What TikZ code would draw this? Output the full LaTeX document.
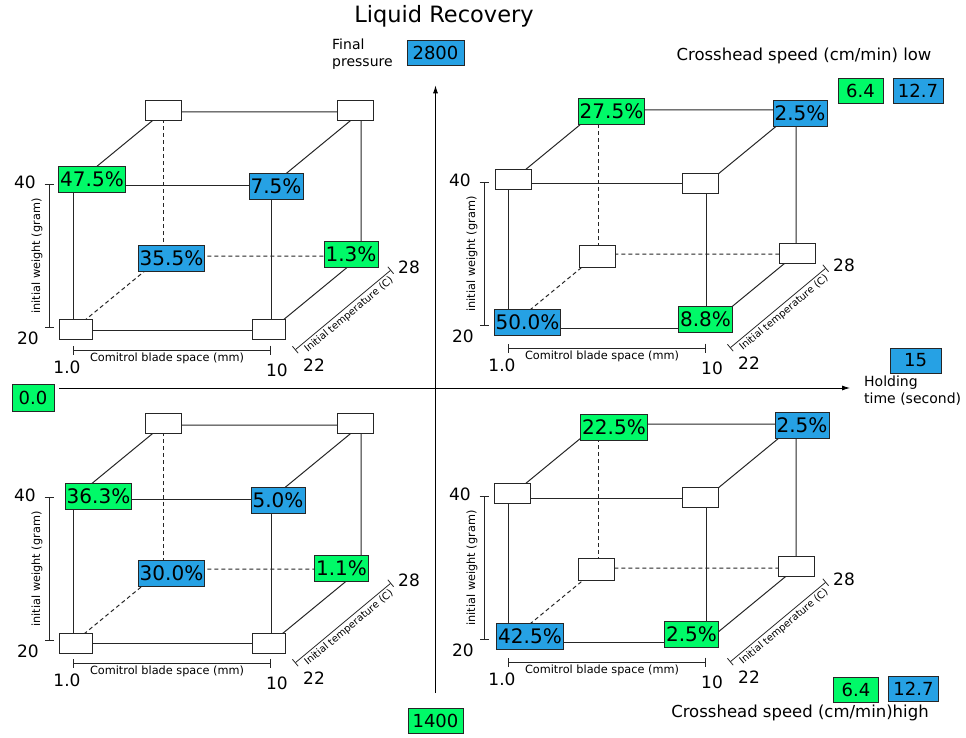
\documentclass[tikz,border=0pt]{standalone}
\usepackage{fontspec}
\setmainfont{DejaVu Sans}
\usetikzlibrary{arrows.meta}
\definecolor{lrgreen}{RGB}{0,250,104}
\definecolor{lrblue}{RGB}{38,161,228}

\begin{document}
\begin{tikzpicture}[x=1pt, y=-1pt,
    edge/.style={draw=black!85, line width=1pt},
    hidden/.style={edge, dash pattern=on 4pt off 3pt},
    bracket/.style={draw=black!85, line width=0.8pt, {Bar[width=9pt]}-{Bar[width=9pt]}},
    blank/.style={draw=black!85, line width=0.8pt, fill=white, inner sep=0pt,
        minimum width=36pt, minimum height=20pt},
    val/.style={draw=black!85, line width=0.8pt, inner xsep=1.5pt, inner ysep=0pt,
        minimum height=26pt, font=\fontsize{20}{23}\selectfont},
    hi/.style={val, fill=lrgreen},
    lo/.style={val, fill=lrblue},
    key/.style={val, inner xsep=3pt, minimum height=25pt, font=\fontsize{18}{21}\selectfont},
    num/.style={inner sep=0pt, font=\fontsize{17}{20}\selectfont},
    axlabel/.style={inner sep=0pt, font=\fontsize{11.3}{13}\selectfont},
    note/.style={inner sep=0pt, align=left, font=\fontsize{14}{17}\selectfont}]
    \useasboundingbox (0,0) rectangle (966,738);

    % Title and legend
    \node[inner sep=0pt, font=\fontsize{22.5}{26}\selectfont] (title) at (444,16) {Liquid Recovery};
    \node[note, anchor=north west] (fp) at (332,39) {Final\\pressure};
    \node[key, fill=lrblue, minimum width=57pt] (p2800) at (435.5,52.5) {2800};
    \node[key, fill=lrgreen, minimum width=55pt] (p1400) at (435.5,721) {1400};
    \node[key, fill=lrgreen, minimum width=42pt, minimum height=27pt] (t00) at (33,397.5) {0.0};
    \node[key, fill=lrblue, minimum width=51pt] (t15) at (915.5,360.5) {15};
    \node[note, anchor=north west] (ht) at (864,376) {Holding\\time (second)};
    \node[note, font=\fontsize{16.5}{19}\selectfont] (csl) at (804,56) {Crosshead speed (cm/min) low};
    \node[key, fill=lrgreen, minimum width=45pt] (sl1) at (860.5,90.5) {6.4};
    \node[key, fill=lrblue, minimum width=50pt] (sl2) at (918,90.5) {12.7};
    \node[note, font=\fontsize{16.5}{19}\selectfont] (csh) at (800,713) {Crosshead speed (cm/min)high};
    \node[key, fill=lrgreen, minimum width=45pt] (sh1) at (856,689.5) {6.4};
    \node[key, fill=lrblue, minimum width=50pt] (sh2) at (913.5,688.5) {12.7};

    % Axes
    \coordinate (hs) at (59,388);
    \coordinate (he) at (850,388);
    \draw[line width=0.8pt, -{Latex[length=8pt,width=5pt]}] ([yshift=15pt]p1400.north) -- ([yshift=-20pt]p2800.south);
    \draw[line width=0.8pt, -{Latex[length=8pt,width=5pt]}] (hs) -- (he);

    % Cubes
    \foreach \ox/\oy in {73/330, 508/328, 73/643, 508/642} {
        \begin{scope}[shift={(\ox,\oy)}]
            \coordinate (fbl) at (0,0);
            \coordinate (fbr) at (198,0);
            \coordinate (ftl) at (0,-144);
            \coordinate (ftr) at (198,-144);
            \coordinate (bbl) at (90,-74);
            \coordinate (bbr) at (288,-74);
            \coordinate (btl) at (90,-218);
            \coordinate (btr) at (288,-218);
            \draw[edge] (fbl) -- (fbr) -- (ftr) -- (ftl) -- cycle;
            \draw[edge] (ftl) -- (btl) -- (btr) -- (bbr) -- (fbr);
            \draw[edge] (ftr) -- (btr);
            \draw[hidden] (fbl) -- (bbl) -- (bbr);
            \draw[hidden] (bbl) -- (btl);
            % scales
            \draw[bracket] (-24,-2) -- (-24,-146);
            \node[num, anchor=east] at (-37,-148) {40};
            \node[num, anchor=east] at (-34,8) {20};
            \node[axlabel, rotate=90] at (-36,-74) {initial weight (gram)};
            \draw[bracket] (0,20) -- (198,20);
            \node[axlabel] at (94,28) {Comitrol blade space (mm)};
            \node[num] at (-6,37) {1.0};
            \node[num] at (204,40) {10};
            \node[num] at (241,35) {22};
            \node[num] at (336,-63) {28};
            \draw[bracket] (222,20) -- (318,-60);
            \node[axlabel, rotate=39.8, font=\fontsize{10}{12}\selectfont] at (276,-15) {Initial temperature (C)};
        \end{scope}
    }

    % Pieces, top left
    \node[blank] (A1) at (163.5,110.5) {};
    \node[blank] (A2) at (355.5,110.5) {};
    \node[hi] (A3) at (92,179.5) {47.5\%};
    \node[lo] (A4) at (276,186.5) {7.5\%};
    \node[lo] (A5) at (171.5,258.5) {35.5\%};
    \node[hi] (A6) at (351,254.5) {1.3\%};
    \node[blank, minimum width=33pt] (A7) at (76,329.5) {};
    \node[blank, minimum width=33pt] (A8) at (269,329.5) {};

    % Pieces, top right
    \node[hi] (B1) at (611.5,111.5) {27.5\%};
    \node[lo] (B2) at (800,113) {2.5\%};
    \node[blank] (B3) at (513,179.5) {};
    \node[blank] (B4) at (700.5,183.5) {};
    \node[blank, minimum height=22pt] (B5) at (597.5,256) {};
    \node[blank] (B6) at (797,253) {};
    \node[lo] (B7) at (527.5,322.5) {50.0\%};
    \node[hi] (B8) at (705.5,319) {8.8\%};

    % Pieces, bottom left
    \node[blank] (C1) at (163.5,423.5) {};
    \node[blank] (C2) at (355.5,423.5) {};
    \node[hi] (C3) at (98.5,496.5) {36.3\%};
    \node[lo] (C4) at (278,500) {5.0\%};
    \node[lo] (C5) at (171.5,573.5) {30.0\%};
    \node[hi] (C6) at (341.5,568.5) {1.1\%};
    \node[blank, minimum width=33pt] (C7) at (76,643) {};
    \node[blank, minimum width=33pt] (C8) at (269,643) {};

    % Pieces, bottom right
    \node[hi] (D1) at (614,427.5) {22.5\%};
    \node[lo] (D2) at (802,425.5) {2.5\%};
    \node[blank] (D3) at (512,493) {};
    \node[blank] (D4) at (700,497.5) {};
    \node[blank, minimum height=22pt] (D5) at (596.5,569.5) {};
    \node[blank] (D6) at (796.5,566.5) {};
    \node[lo] (D7) at (530,636.5) {42.5\%};
    \node[hi] (D8) at (691.5,634) {2.5\%};
\end{tikzpicture}
\end{document}
